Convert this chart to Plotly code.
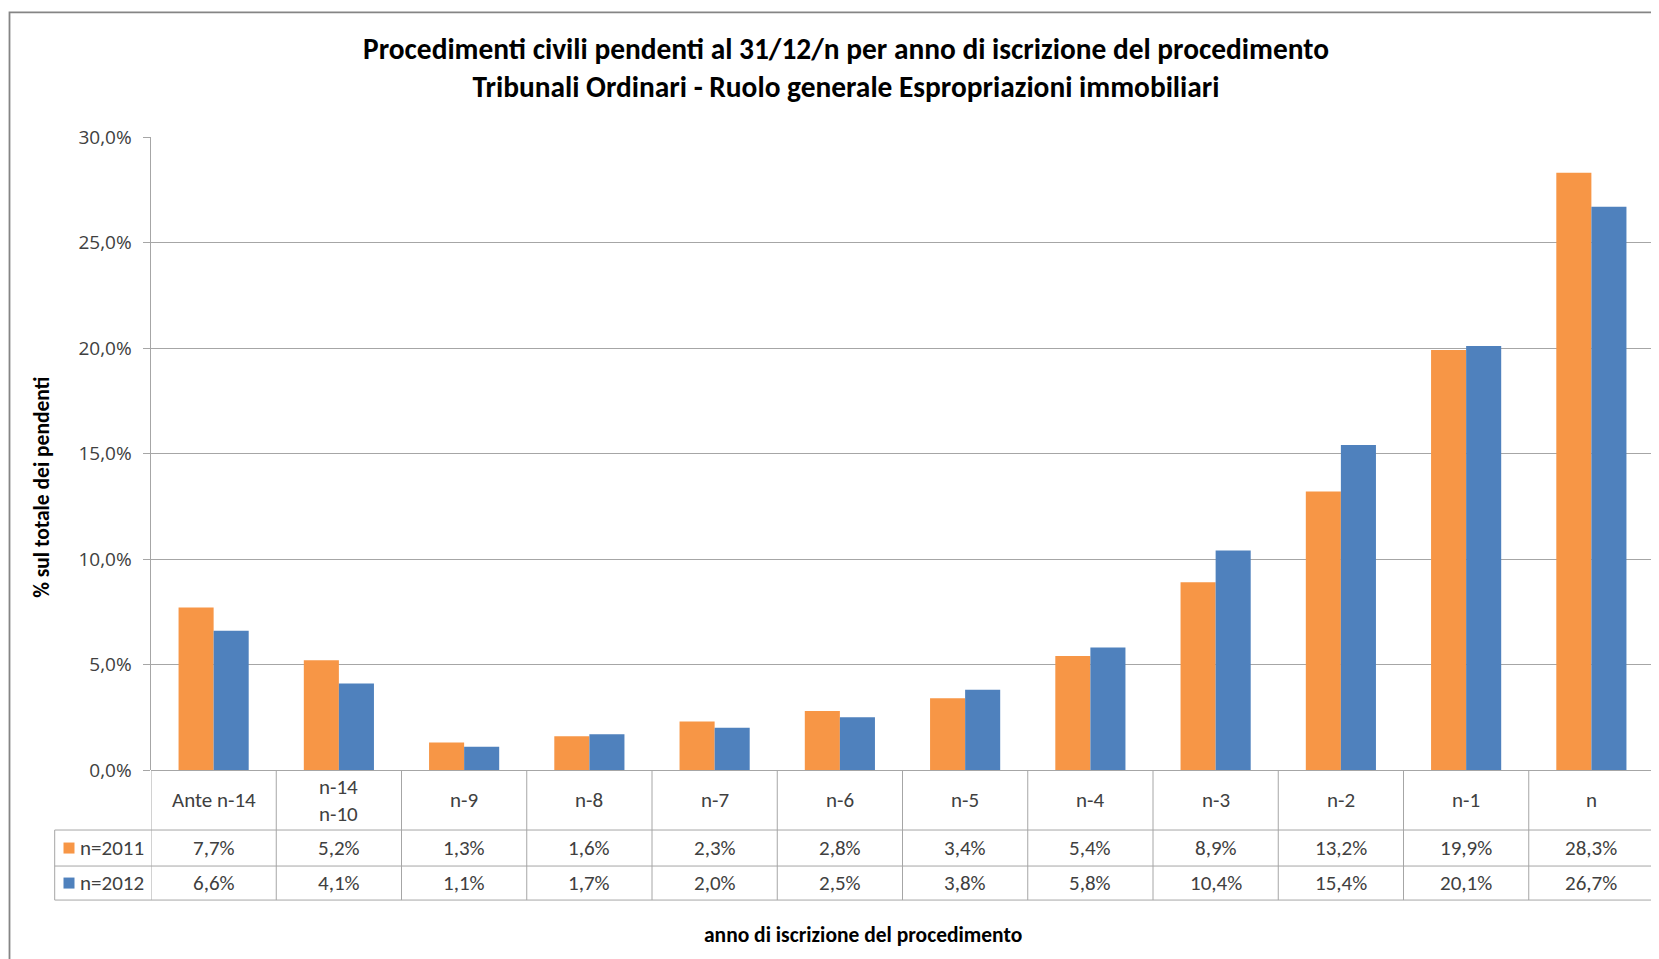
import plotly.graph_objects as go

categories = ["Ante n-14", "n-14<br>n-10", "n-9", "n-8", "n-7", "n-6", "n-5", "n-4",
              "n-3", "n-2", "n-1", "n"]
series_names = ["n=2011", "n=2012"]
values_2011 = [7.7, 5.2, 1.3, 1.6, 2.3, 2.8, 3.4, 5.4, 8.9, 13.2, 19.9, 28.3]
values_2012 = [6.6, 4.1, 1.1, 1.7, 2.0, 2.5, 3.8, 5.8, 10.4, 15.4, 20.1, 26.7]
colors = ["#F79646", "#4F81BD"]

# page coordinates (browser window 1659x959); the html body adds an 8px offset
OFF = 8
W, H = 1659 - OFF, 959 - OFF
L, R = 151, 1654          # plot area edges in page pixels
T, B = 137.3, 770
PW, PH = R - L, B - T

FONT = "Carlito, Calibri, Liberation Sans, sans-serif"
TICKFONT = "Open Sans, DejaVu Sans, sans-serif"
GRID = "#A6A6A6"
TXT = "#404040"
TS = 21  # table font size

def px(x):
    return (x - L) / PW

def py(y):
    return (B - y) / PH

xs = list(range(len(categories)))
fig = go.Figure()
for name, vals, col in zip(series_names, [values_2011, values_2012], colors):
    fig.add_trace(go.Bar(x=xs, y=vals, name=name, marker=dict(color=col, line=dict(width=0)),
                         showlegend=False))

shapes = []
annotations = []

# table geometry (page pixels)
row_tops = [B, 830, 866, 900]
leg_left = 54.7
line_style = dict(color=GRID, width=1)

for i in range(len(categories) + 1):
    shapes.append(dict(type="line", xref="x", yref="paper", x0=i - 0.5, x1=i - 0.5,
                       y0=py(row_tops[0]), y1=py(row_tops[3]), line=line_style))
shapes.append(dict(type="line", xref="paper", yref="paper", x0=px(leg_left), x1=px(leg_left),
                   y0=py(row_tops[1]), y1=py(row_tops[3]), line=line_style))
for yy in row_tops[1:]:
    shapes.append(dict(type="line", xref="paper", yref="paper", x0=px(leg_left), x1=1,
                       y0=py(yy), y1=py(yy), line=line_style))

for i, c in enumerate(categories):
    annotations.append(dict(x=i, y=py((row_tops[0] + row_tops[1]) / 2), xref="x", yref="paper",
                            text=c, showarrow=False, font=dict(family=FONT, size=TS, color=TXT),
                            xanchor="center", yanchor="middle"))

for r, (name, vals, col) in enumerate(zip(series_names, [values_2011, values_2012], colors)):
    ymid = (row_tops[r + 1] + row_tops[r + 2]) / 2
    yc = py(ymid)
    for i, v in enumerate(vals):
        annotations.append(dict(x=i, y=yc, xref="x", yref="paper",
                                text=f"{v:.1f}%".replace(".", ","), showarrow=False,
                                font=dict(family=FONT, size=TS, color=TXT),
                                xanchor="center", yanchor="middle"))
    shapes.append(dict(type="rect", xref="paper", yref="paper", x0=px(63.5), x1=px(74.5),
                       y0=py(ymid + 5.5), y1=py(ymid - 5.5), fillcolor=col, line=dict(width=0)))
    annotations.append(dict(x=px(78), y=yc, xref="paper", yref="paper", text=name,
                            showarrow=False, font=dict(family=FONT, size=TS, color=TXT),
                            xanchor="left", yanchor="middle"))

# outer border of chart
shapes.append(dict(type="rect", xref="paper", yref="paper", x0=px(9.5), x1=px(1720),
                   y0=py(1020), y1=py(12.7), line=dict(color="#858585", width=1.8), layer="below"))

annotations.append(dict(x=px(42), y=py(488), xref="paper", yref="paper",
                        text="<b>% sul totale dei pendenti</b>", textangle=-90, showarrow=False,
                        font=dict(family=FONT, size=21.5, color="#000000"),
                        xanchor="center", yanchor="middle"))
annotations.append(dict(x=px(862.5), y=py(935), xref="paper", yref="paper",
                        text="<b>anno di iscrizione del procedimento</b>", showarrow=False,
                        font=dict(family=FONT, size=21.5, color="#000000"),
                        xanchor="center", yanchor="middle"))

fig.update_layout(
    width=W, height=H,
    margin=dict(l=L - OFF, r=W - (R - OFF), t=T - OFF, b=H - (B - OFF), autoexpand=False),
    paper_bgcolor="white", plot_bgcolor="white",
    separators=",.",
    barmode="group", bargap=0.44, bargroupgap=0.0,
    title=dict(text="<b>Procedimenti civili pendenti al 31/12/n per anno di iscrizione del procedimento"
                    "<br>Tribunali Ordinari - Ruolo generale Espropriazioni immobiliari</b>",
               x=(846 - OFF) / W, xanchor="center", xref="container",
               y=1 - (59 - OFF) / H, yanchor="middle", yref="container",
               font=dict(family=FONT, size=29.4, color="#000000")),
    xaxis=dict(range=[-0.5, len(categories) - 0.5], showticklabels=False, showgrid=False,
               zeroline=False, showline=False, ticks="", fixedrange=True),
    yaxis=dict(range=[0, 30], dtick=5, ticksuffix="%", tickformat=".1f",
               showgrid=True, gridcolor=GRID, gridwidth=1, zeroline=True, zerolinecolor=GRID,
               zerolinewidth=1, showline=True, linecolor=GRID, linewidth=1,
               ticks="outside", ticklen=7.5, tickcolor=GRID, ticklabelstandoff=7,
               tickfont=dict(family=TICKFONT, size=19, color=TXT)),
    shapes=shapes, annotations=annotations,
)

fig.write_html("out.html")
